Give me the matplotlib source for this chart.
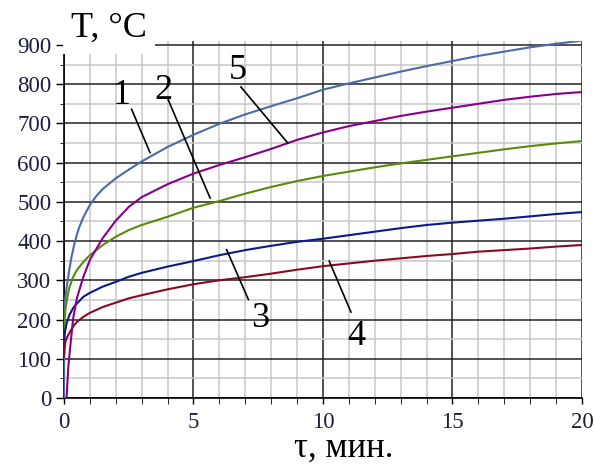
import matplotlib.pyplot as plt
from matplotlib.ticker import MultipleLocator

# heating curves, time in minutes -> temperature in deg C
t1 = [0, 0.02, 0.05, 0.1, 0.2, 0.3, 0.4, 0.5, 0.6, 0.75, 1, 1.25, 1.5, 2, 2.5, 3, 4, 5, 6, 7, 8,
      9, 10, 11, 12, 13, 14, 15, 16, 17, 18, 19, 20]
T1 = [0, 235, 255, 280, 325, 362, 392, 417, 437, 461, 492, 515, 533, 560, 582, 603, 640, 671, 699,
      723, 744, 764, 786, 802, 817, 832, 846, 859, 872, 883, 894, 903, 911]

t2 = [0, 0.02, 0.05, 0.1, 0.2, 0.35, 0.5, 0.75, 1, 1.5, 2, 2.5, 3, 4, 5, 6, 7, 8, 9, 10,
      11, 12, 13, 14, 15, 16, 17, 18, 19, 20]
T2 = [150, 195, 222, 245, 280, 308, 326, 347, 364, 390, 411, 428, 441, 462, 485, 502, 521, 538,
      553, 566, 577, 588, 598, 607, 616, 625, 634, 642, 649, 655]

t3 = [0, 0.03, 0.1, 0.2, 0.35, 0.5, 0.75, 1, 1.5, 2, 2.5, 3, 4, 5, 6, 7, 8, 9, 10,
      11, 12, 13, 14, 15, 16, 17, 18, 19, 20]
T3 = [140, 165, 190, 210, 229, 241, 258, 268, 284, 296, 309, 319, 335, 349, 364, 377, 388, 398,
      406, 415, 424, 433, 441, 447, 452, 457, 463, 469, 474]

t4 = [0, 0.03, 0.06, 0.1, 0.2, 0.35, 0.5, 0.75, 1, 1.5, 2, 2.5, 3, 4, 5, 6, 7, 8, 9, 10,
      11, 12, 13, 14, 15, 16, 17, 18, 19, 20]
T4 = [105, 130, 145, 152, 165, 182, 194, 207, 217, 232, 243, 254, 262, 277, 290, 300, 308, 317,
      327, 336, 343, 350, 356, 362, 367, 373, 377, 381, 386, 390]

t5 = [0.1, 0.17, 0.27, 0.36, 0.5, 0.75, 1, 1.5, 2, 2.5, 3, 4, 5, 6, 7, 8, 9, 10,
      11, 12, 13, 14, 15, 16, 17, 18, 19, 20]
T5 = [0, 82, 149, 205, 255, 309, 352, 408, 452, 487, 512, 545, 572, 594, 614, 635, 658, 677,
      693, 706, 719, 730, 740, 750, 760, 768, 775, 780]

colors = ['#4a6aa8', '#5a8a0a', '#0a1a88', '#8a0a22', '#880088']

# curve number, text position, leader line start and end
labels = ['1', '2', '3', '4', '5']
label_xy = [(2.23, 771), (3.83, 783), (7.57, 203), (11.3, 157), (6.73, 834)]
line_from = [(2.61, 736), (4.0, 764), (6.28, 378), (10.24, 349), (6.83, 793)]
line_to = [(3.32, 626), (5.64, 510), (7.12, 251), (11.08, 219), (8.64, 650)]


def main():
    plt.rcParams['font.family'] = ['Liberation Serif', 'DejaVu Serif']
    fig = plt.figure(figsize=(5.94, 4.65), dpi=100)
    ax = fig.add_axes([0.1077, 0.1441, 0.8721, 0.7677])

    for t, T, c in zip([t1, t2, t3, t4, t5], [T1, T2, T3, T4, T5], colors):
        ax.plot(t, T, color=c, lw=1.5, zorder=3)

    for s, xy, a, b in zip(labels, label_xy, line_from, line_to):
        ax.plot([a[0], b[0]], [a[1], b[1]], color='black', lw=1.2, zorder=4)
        ax.text(xy[0], xy[1], s, fontsize=26, ha='center', va='center', zorder=5)

    ax.set_xlim(0, 20)
    ax.set_ylim(0, 910)
    ax.xaxis.set_major_locator(MultipleLocator(5))
    ax.xaxis.set_minor_locator(MultipleLocator(1))
    ax.yaxis.set_major_locator(MultipleLocator(100))
    ax.yaxis.set_minor_locator(MultipleLocator(50))

    ax.grid(which='major', color='#222222', lw=1.1)
    ax.grid(which='minor', color='#c8c8c8', lw=1.1)
    ax.set_axisbelow(True)

    for side in ['top', 'right']:
        ax.spines[side].set_visible(False)
    for side in ['left', 'bottom']:
        ax.spines[side].set_linewidth(1.2)

    ax.tick_params(axis='both', which='major', labelsize=16.5, labelcolor='#1c1c3c',
                   labelfontfamily='Liberation Serif', width=1.0)
    ax.tick_params(axis='y', which='major', length=6, pad=3)
    ax.tick_params(axis='y', which='minor', length=3)
    ax.tick_params(axis='x', which='both', length=4, pad=6)

    fig.text(0.1195, 0.920, 'T, °C', fontsize=26, va='baseline', ha='left',
             bbox=dict(fc='white', ec='none', pad=6))
    fig.text(0.579, 0.017, 'τ, мин.', fontsize=25, va='baseline', ha='center')

    plt.savefig('out.png', dpi=100)


if __name__ == '__main__':
    main()
